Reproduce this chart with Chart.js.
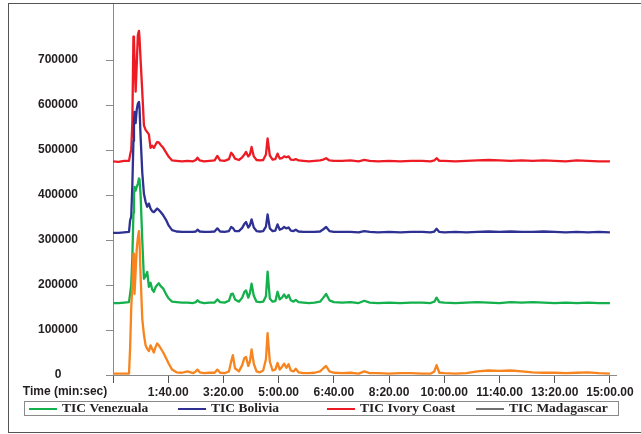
<!DOCTYPE html>
<html>
<head>
<meta charset="utf-8">
<script src="https://cdn.jsdelivr.net/npm/chart.js@4/dist/chart.umd.min.js"></script>
<style>
  html, body { margin: 0; padding: 0; background: #fff; }
  #wrap { width: 641px; height: 434px; position: relative; }
</style>
</head>
<body>
<div id="wrap"><canvas id="tic"></canvas></div>
<script>
/* TIC chromatograms, offset traces; values in thousands of counts */
const TIMES = [
  0, 10, 20, 29, 31, 33, 35, 37, 38, 39,
  41, 43, 45, 47, 48, 50, 53, 56, 59, 62,
  65, 68, 71, 74, 77, 80, 83, 86, 91, 96,
  101, 107, 115, 125, 135, 145, 150, 153, 157, 165,
  175, 184, 189, 194, 202, 210, 214, 217, 221, 228,
  234, 238, 241, 245, 248, 251, 255, 260, 266, 272,
  277, 280, 284, 289, 294, 298, 302, 306, 310, 314,
  318, 322, 327, 331, 336, 345, 355, 365, 375, 381,
  386, 392, 400, 415, 430, 445, 455, 465, 480, 500,
  520, 540, 560, 575, 582, 586, 591, 600, 620, 640,
  660, 680, 700, 720, 740, 760, 780, 800, 820, 840,
  860, 880, 900
];
const VENEZUALA = [
  160, 160, 161, 162, 181, 200, 260, 360, 400, 418,
  410, 418, 425, 437, 435, 400, 300, 214, 220, 229,
  196, 205, 190, 185, 195, 200, 204, 198, 192, 180,
  170, 163, 162, 161, 161, 160, 162, 166, 162, 160,
  161, 161, 168, 162, 161, 165, 180, 181, 168, 163,
  172, 185, 188, 172, 182, 203, 176, 163, 162, 163,
  175, 230, 170, 163, 164, 185, 168, 172, 179, 171,
  178, 166, 163, 167, 162, 161, 160, 161, 163, 172,
  180, 166, 162, 161, 162, 160, 165, 161, 160, 161,
  160, 161, 161, 160, 163, 172, 162, 161, 160, 161,
  162, 161, 160, 162, 161, 162, 161, 160, 161, 160,
  161, 160, 160
];
const BOLIVIA = [
  316, 316, 317, 318, 344, 352, 420, 520, 560, 585,
  560, 590, 603, 607, 595, 530, 450, 403, 385, 374,
  381, 370, 364, 362, 366, 370, 367, 363, 355, 345,
  332, 322, 319, 318, 318, 318, 319, 323, 319, 318,
  318, 319, 326, 319, 318, 320, 329, 327, 320, 320,
  327, 336, 340, 328, 333, 346, 328, 320, 319, 320,
  330, 357, 326, 320, 321, 335, 323, 325, 329, 326,
  328, 321, 320, 323, 319, 318, 318, 318, 319, 324,
  329, 320, 318, 318, 318, 317, 320, 318, 317, 318,
  317, 318, 318, 317, 319, 325, 318, 317, 318, 317,
  318, 319, 318, 319, 318, 318, 319, 318, 317, 318,
  317, 318, 317
];
const IVORY_COAST = [
  475, 474, 476, 476, 490, 500, 560, 752, 745, 700,
  630, 690, 755, 765, 750, 700, 630, 555, 545, 540,
  535, 505, 510, 505, 512, 518, 517, 512, 505, 495,
  485, 477, 476, 475, 476, 475, 478, 483, 477, 475,
  476, 477, 487, 477, 476, 480, 494, 490, 481, 478,
  484, 490, 496, 486, 490, 507, 486, 478, 477, 478,
  490, 526, 488, 479, 480, 492, 481, 482, 486, 484,
  486, 479, 478, 480, 477, 476, 475, 476, 477, 479,
  482, 477, 476, 476, 477, 475, 478, 476, 475, 476,
  475, 476, 476, 475, 477, 482, 476, 476, 475, 476,
  477, 478, 477, 476, 477, 476, 477, 476, 475, 477,
  476, 475, 475
];
const MADAGASCAR = [
  3, 3, 3, 3, 60, 148, 200, 270, 240, 180,
  230, 280, 305, 320, 300, 220, 125, 90, 66, 58,
  53, 66, 58, 50, 62, 70, 66, 60, 50, 38,
  25, 12, 6, 5, 8, 4, 8, 12, 6, 4,
  5, 5, 12, 5, 4, 8, 30, 44, 15, 8,
  22, 38, 40, 20, 30, 57, 25, 8, 6, 10,
  35, 93, 30, 10, 12, 27, 12, 18, 25, 16,
  24, 10, 8, 14, 6, 4, 4, 5, 8, 15,
  20, 8, 5, 4, 5, 3, 8, 4, 4, 3,
  4, 4, 3, 3, 8, 22, 5, 4, 3, 4,
  8, 10, 9, 10, 8, 6, 5, 5, 4, 5,
  6, 4, 3
];

const SERIES = ['TIC Venezuala', 'TIC Bolivia', 'TIC Ivory Coast', 'TIC Madagascar'];
const LINE_COLORS = ['#13b04b', '#2e3192', '#ed1c24', '#f7841f'];
const LEGEND_COLORS = ['#13b04b', '#2e3192', '#ed1c24', '#111111'];
const Y_TICKS = [0, 100000, 200000, 300000, 400000, 500000, 600000, 700000];
const X_TICKS = [0, 100, 200, 300, 400, 500, 600, 700, 800, 900];
const X_LABELS = ['', '1:40.00', '3:20.00', '5:00.00', '6:40.00', '8:20.00',
                  '10:00.00', '11:40.00', '13:20.00', '15:00.00'];

const AXIS = '#8a8a8a', TXT = '#231f20';
const SANS = '"Liberation Sans", Arial, sans-serif';
const SERIF = '"Liberation Serif", "Times New Roman", serif';

const pts = arr => TIMES.map((t, i) => ({ x: t, y: arr[i] * 1000 }));
const VALUES = [VENEZUALA, BOLIVIA, IVORY_COAST, MADAGASCAR];
const DRAW_ORDER = [1, 2, 3, 0]; // orange on top, red at the back

const frameAndLegend = {
  id: 'frameAndLegend',
  afterDraw(chart) {
    const { ctx } = chart;
    ctx.save();
    // outer frame
    ctx.strokeStyle = '#555';
    ctx.lineWidth = 1;
    ctx.strokeRect(8.5, 3.5, 700, 429);
    // x title at left
    ctx.fillStyle = TXT;
    ctx.font = 'bold 12px ' + SANS;
    ctx.textAlign = 'center';
    ctx.textBaseline = 'middle';
    ctx.fillText('Time (min:sec)', 65, 392);
    // legend box
    ctx.strokeStyle = AXIS;
    ctx.strokeRect(24.5, 401.5, 594, 14);
    ctx.font = 'bold 13.5px ' + SERIF;
    ctx.textAlign = 'left';
    chart.data.datasets.forEach((ds, i) => {
      const x0 = 29 + i * 149, y = 409;
      ctx.strokeStyle = LEGEND_COLORS[i];
      ctx.lineWidth = i === 3 ? 1.2 : 2;
      ctx.beginPath(); ctx.moveTo(x0, y); ctx.lineTo(x0 + 28, y); ctx.stroke();
      ctx.fillStyle = TXT;
      ctx.fillText(ds.label, x0 + 33, y);
    });
    ctx.restore();
  }
};

new Chart('tic', {
  type: 'line',
  data: {
    datasets: SERIES.map((name, i) => ({
      label: name,
      data: pts(VALUES[i]),
      borderColor: LINE_COLORS[i],
      borderWidth: 2.3,
      borderJoinStyle: 'round',
      pointRadius: 0,
      tension: 0,
      fill: false,
      order: DRAW_ORDER[i]
    }))
  },
  options: {
    responsive: true,
    maintainAspectRatio: false,
    animation: false,
    layout: { padding: { left: 0, top: 3, right: 25, bottom: 0 } },
    plugins: { legend: { display: false }, tooltip: { enabled: false } },
    scales: {
      x: {
        type: 'linear', min: 0, max: 911,
        afterBuildTicks: s => { s.ticks = X_TICKS.map(v => ({ value: v })); },
        afterFit: s => { s.height = 59; },
        grid: { drawOnChartArea: false, tickLength: 8, color: '#555' },
        border: { color: AXIS },
        ticks: {
          padding: 2, color: TXT, maxRotation: 0, autoSkip: false,
          font: { family: SANS, size: 12, weight: 'bold' },
          callback: (v, i) => X_LABELS[i]
        }
      },
      y: {
        min: 0, max: 827000,
        afterBuildTicks: s => { s.ticks = Y_TICKS.map(v => ({ value: v })); },
        afterFit: s => { s.width = 113; s.paddingTop = 0; s.paddingBottom = 0; },
        grid: { drawOnChartArea: false, tickLength: 7, color: AXIS },
        border: { color: AXIS },
        ticks: {
          crossAlign: 'center', padding: 28, color: TXT,
          font: { family: SANS, size: 12, weight: 'bold' },
          callback: v => String(v)
        }
      }
    }
  },
  plugins: [frameAndLegend]
});
</script>
</body>
</html>
